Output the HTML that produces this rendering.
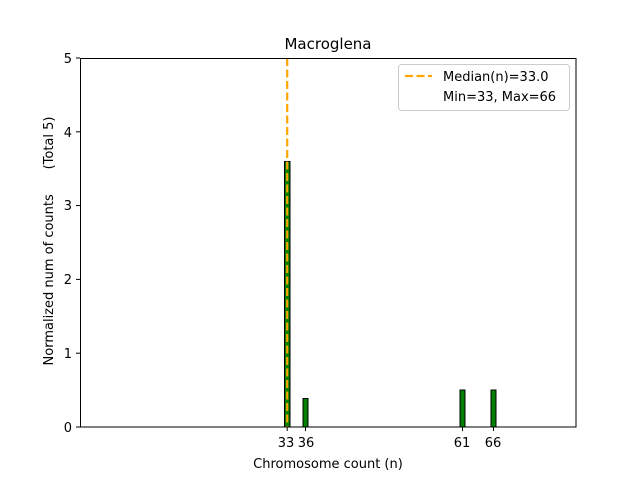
<!DOCTYPE html>
<html><head><style>body{margin:0;background:#fff}svg{display:block}text{font-family:"DejaVu Sans","Liberation Sans",sans-serif;fill:#000}</style></head><body>
<svg width="640" height="480" viewBox="0 0 640 480" xmlns="http://www.w3.org/2000/svg">
<rect width="640" height="480" fill="#fff"/>
<g fill="green" stroke="#000" stroke-width="1">
<rect x="284.5" y="161.5" width="5.5" height="265.5"/>
<rect x="303" y="398.5" width="5" height="28.5"/>
<rect x="460" y="390" width="5" height="37"/>
<rect x="491" y="390" width="5" height="37"/>
</g>
<line x1="287.2" y1="58" x2="287.2" y2="427" stroke="orange" stroke-width="2.2" stroke-dasharray="8,3.5"/>
<rect x="80.5" y="58.5" width="495.5" height="368.5" fill="none" stroke="#000" stroke-width="1"/>
<g stroke="#000" stroke-width="1">
<line x1="76" y1="427" x2="80" y2="427"/><line x1="76" y1="353.2" x2="80" y2="353.2"/><line x1="76" y1="279.4" x2="80" y2="279.4"/><line x1="76" y1="205.6" x2="80" y2="205.6"/><line x1="76" y1="131.8" x2="80" y2="131.8"/><line x1="76" y1="58" x2="80" y2="58"/>
<line x1="287.2" y1="427" x2="287.2" y2="431"/><line x1="305.5" y1="427" x2="305.5" y2="431"/><line x1="462.5" y1="427" x2="462.5" y2="431"/><line x1="493.5" y1="427" x2="493.5" y2="431"/>
</g>
<g font-size="13" text-anchor="end">
<text x="72" y="432">0</text><text x="72" y="358">1</text><text x="72" y="284">2</text><text x="72" y="210">3</text><text x="72" y="137">4</text><text x="72" y="63">5</text>
</g>
<g font-size="13" text-anchor="middle">
<text x="286" y="447">33</text><text x="306" y="447">36</text><text x="462" y="447">61</text><text x="493" y="447">66</text>
<text x="328" y="468">Chromosome count (n)</text>
<text x="328" y="49" font-size="15">Macroglena</text>
</g>
<text transform="translate(53,241) rotate(-90)" font-size="13" text-anchor="middle" xml:space="preserve" style="white-space:pre">Normalized num of counts      (Total 5)</text>
<rect x="398.5" y="64.5" width="171" height="46" rx="3" fill="#fff" stroke="#ccc"/>
<line x1="405" y1="76" x2="432" y2="76" stroke="orange" stroke-width="2.2" stroke-dasharray="8,3.5"/>
<text x="443" y="81" font-size="13">Median(n)=33.0</text>
<text x="443" y="101" font-size="13">Min=33, Max=66</text>
</svg>
</body></html>
